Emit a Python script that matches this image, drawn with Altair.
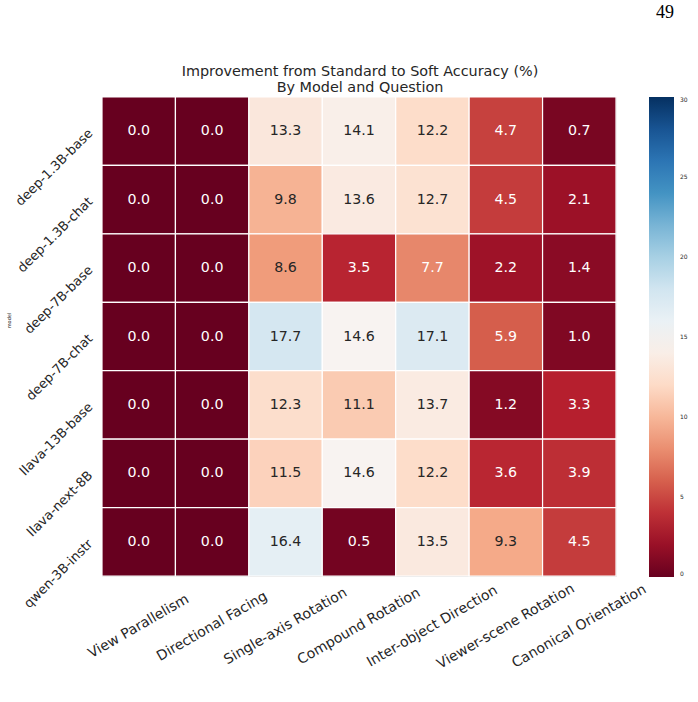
import altair as alt
import pandas as pd

models = ["deep-1.3B-base", "deep-1.3B-chat", "deep-7B-base", "deep-7B-chat",
          "llava-13B-base", "llava-next-8B", "qwen-3B-instr"]
questions = ["View Parallelism", "Directional Facing", "Single-axis Rotation",
             "Compound Rotation", "Inter-object Direction", "Viewer-scene Rotation",
             "Canonical Orientation"]
values = [
    [0.0, 0.0, 13.3, 14.1, 12.2, 4.7, 0.7],
    [0.0, 0.0, 9.8, 13.6, 12.7, 4.5, 2.1],
    [0.0, 0.0, 8.6, 3.5, 7.7, 2.2, 1.4],
    [0.0, 0.0, 17.7, 14.6, 17.1, 5.9, 1.0],
    [0.0, 0.0, 12.3, 11.1, 13.7, 1.2, 3.3],
    [0.0, 0.0, 11.5, 14.6, 12.2, 3.6, 3.9],
    [0.0, 0.0, 16.4, 0.5, 13.5, 9.3, 4.5],
]
legend_ticks = [0, 5, 10, 15, 20, 25, 30]
title_lines = ["Improvement from Standard to Soft Accuracy (%)", "By Model and Question"]

# RdBu colormap stops (matplotlib / ColorBrewer 11-class)
color_domain = [0, 3, 6, 9, 12, 15, 18, 21, 24, 27, 30]
color_range = ["#67001f", "#b2182b", "#d6604d", "#f4a582", "#fddbc7", "#f7f7f7",
               "#d1e5f0", "#92c5de", "#4393c3", "#2166ac", "#053061"]

rows = []
for m, vals in zip(models, values):
    for q, v in zip(questions, vals):
        rows.append({"model": m, "question": q, "value": v})
df = pd.DataFrame(rows)

FONT = "DejaVu Sans"
DARK = "#262626"

base = alt.Chart(df).encode(
    x=alt.X("question:N", sort=questions,
            axis=alt.Axis(title=None, labelAngle=-30, labelAlign="center",
                          labelBaseline="middle", labelPadding=50,
                          labelFontSize=14, labelFont=FONT, labelColor=DARK,
                          ticks=False, domain=False, labelLimit=300)),
    y=alt.Y("model:N", sort=models,
            axis=alt.Axis(title="model", labelAngle=-45, labelAlign="right",
                          labelBaseline="middle", labelPadding=12,
                          labelFontSize=13, labelFont=FONT, labelColor=DARK,
                          ticks=False, domain=False, labelLimit=300,
                          titleFontSize=5, titleFont=FONT, titleFontWeight="normal",
                          titleColor=DARK, titleX=-94, titleY=223,
                          titleAlign="center", titleBaseline="middle")),
)

rect = base.mark_rect(stroke="white", strokeWidth=1.2).encode(
    color=alt.Color("value:Q",
                    scale=alt.Scale(domain=color_domain, range=color_range,
                                    interpolate="rgb"),
                    legend=alt.Legend(title=None, orient="none", legendX=547, legendY=0,
                                      direction="vertical", gradientLength=480,
                                      gradientThickness=25, values=legend_ticks,
                                      labelFontSize=6, labelFont=FONT, labelColor=DARK,
                                      labelOffset=6, labelBaseline="middle",
                                      padding=0, gradientStrokeWidth=0))
)

text = base.mark_text(fontSize=14.2, font=FONT).encode(
    text=alt.Text("value:Q", format=".1f"),
    color=alt.condition("datum.value >= 8", alt.value(DARK), alt.value("white")),
)

page = alt.Chart(pd.DataFrame({"t": ["49"]})).mark_text(
    font="Liberation Serif", fontSize=18, color="black", align="center", baseline="middle"
).encode(x=alt.value(563), y=alt.value(-84), text="t:N")

title1 = alt.Chart(pd.DataFrame({"t": [title_lines[0]]})).mark_text(
    font=FONT, fontSize=14.4, color=DARK, align="center", baseline="middle"
).encode(x=alt.value(258), y=alt.value(-25), text="t:N")

title2 = alt.Chart(pd.DataFrame({"t": [title_lines[1]]})).mark_text(
    font=FONT, fontSize=14.4, color=DARK, align="center", baseline="middle"
).encode(x=alt.value(258), y=alt.value(-9), text="t:N")

chart = alt.layer(rect, text, page, title1, title2).properties(
    width=514, height=479,
    autosize=alt.AutoSizeParams(type="none"),
    padding={"left": 102, "top": 97, "right": 82, "bottom": 126},
).configure_view(strokeWidth=0).configure(background="white")

chart.save("out.html", embed_options={"renderer": "svg", "actions": False})
